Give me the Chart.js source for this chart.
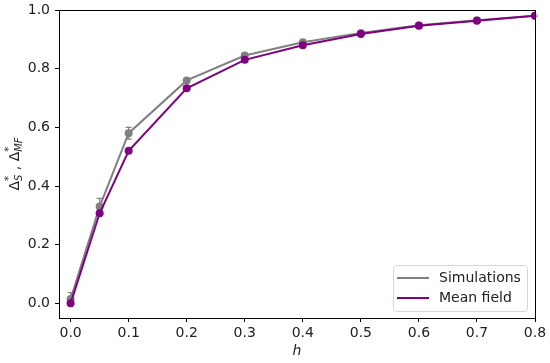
<!DOCTYPE html>
<html lang="en">
<head>
  <meta charset="UTF-8" />
  <title>Delta vs h</title>
  <script src="https://cdn.jsdelivr.net/npm/chart.js@4.4.0/dist/chart.umd.min.js"></script>
  <style>
    html, body { margin: 0; padding: 0; background: white; }
    #wrap { width: 550px; height: 363px; }
  </style>
</head>
<body>
  <div id="wrap"><canvas id="chart"></canvas></div>

  <script>
    const hValues = [0.0, 0.05, 0.1, 0.2, 0.3, 0.4, 0.5, 0.6, 0.7, 0.8];
    const simValues = [0.015, 0.330, 0.580, 0.760, 0.845, 0.890, 0.922, 0.948, 0.965, 0.980];
    const simErrors = [0.022, 0.028, 0.020, 0.008, 0.007, 0.006, 0.005, 0.004, 0.004, 0.003];
    const mfValues = [0.000, 0.307, 0.520, 0.733, 0.830, 0.880, 0.918, 0.946, 0.963, 0.980];
    const xTicks = [0.0, 0.1, 0.2, 0.3, 0.4, 0.5, 0.6, 0.7, 0.8];
    const yTicks = [0.0, 0.2, 0.4, 0.6, 0.8, 1.0];

    const GREY = '#808080';
    const PURPLE = '#800080';
    const FONT = 'DejaVu Sans';

    const toPoints = (ys) => hValues.map((x, i) => ({ x: x, y: ys[i] }));

    // error bars, frame, legend and axis titles
    const extras = {
      id: 'extras',
      beforeDatasetsDraw(chart) {
        const { ctx, scales: { x, y } } = chart;
        ctx.save();
        ctx.strokeStyle = GREY;
        ctx.lineWidth = 1.2;
        hValues.forEach((h, i) => {
          const px = x.getPixelForValue(h);
          const top = y.getPixelForValue(simValues[i] + simErrors[i]);
          const bot = y.getPixelForValue(simValues[i] - simErrors[i]);
          ctx.beginPath();
          ctx.moveTo(px, top); ctx.lineTo(px, bot);
          ctx.moveTo(px - 3, top); ctx.lineTo(px + 3, top);
          ctx.moveTo(px - 3, bot); ctx.lineTo(px + 3, bot);
          ctx.stroke();
        });
        ctx.restore();
      },
      afterDraw(chart) {
        const { ctx, chartArea: a } = chart;
        ctx.save();
        // frame
        ctx.strokeStyle = '#000';
        ctx.lineWidth = 1;
        ctx.strokeRect(a.left + 0.5, a.top + 0.5, a.right - a.left, a.bottom - a.top);

        // legend
        const lx = a.right - 142, ly = a.bottom - 53, lw = 134, lh = 46;
        ctx.fillStyle = 'rgba(255,255,255,0.8)';
        ctx.strokeStyle = '#d6d6d6';
        ctx.beginPath();
        ctx.roundRect(lx + 0.5, ly + 0.5, lw, lh, 3);
        ctx.fill(); ctx.stroke();
        ctx.font = '14px "' + FONT + '"';
        ctx.textBaseline = 'middle';
        chart.data.datasets.forEach((ds, i) => {
          const yy = ly + 13 + i * 20;
          ctx.strokeStyle = ds.borderColor;
          ctx.lineWidth = 2;
          ctx.beginPath();
          ctx.moveTo(lx + 4, yy); ctx.lineTo(lx + 36, yy);
          ctx.stroke();
          ctx.fillStyle = '#222';
          ctx.fillText(ds.label, lx + 46, yy);
        });

        // x title
        ctx.fillStyle = '#222';
        ctx.font = 'italic 14px "' + FONT + '"';
        ctx.textAlign = 'center';
        ctx.textBaseline = 'alphabetic';
        ctx.fillText('h', (a.left + a.right) / 2, 355);

        // y title: Δ*_S , Δ*_MF
        const parts = [
          { t: 'Δ', f: '14px', dy: 0 },
          { t: '*', f: '10px', dy: -7 },
          { t: 'S', f: 'italic 10px', dy: 3, back: true },
          { t: ' , ', f: '14px', dy: 0 },
          { t: 'Δ', f: '14px', dy: 0 },
          { t: '*', f: '10px', dy: -7 },
          { t: 'MF', f: 'italic 10px', dy: 3, back: true }
        ];
        const widths = parts.map((p) => {
          ctx.font = p.f + ' "' + FONT + '"';
          return ctx.measureText(p.t).width;
        });
        // subscript sits under the superscript before it
        const pos = [];
        let cur = 0, prevStart = 0;
        parts.forEach((p, i) => {
          if (p.back) {
            pos.push(prevStart);
            cur = Math.max(cur, prevStart + widths[i]);
          } else {
            pos.push(cur);
            prevStart = cur;
            cur += widths[i];
          }
        });
        const total = cur;
        ctx.translate(19, (a.top + a.bottom) / 2);
        ctx.rotate(-Math.PI / 2);
        ctx.textAlign = 'left';
        parts.forEach((p, i) => {
          ctx.font = p.f + ' "' + FONT + '"';
          ctx.fillText(p.t, pos[i] - total / 2, p.dy);
        });
        ctx.restore();
      }
    };

    const tickFont = { family: FONT, size: 14 };

    new Chart(document.getElementById('chart'), {
      type: 'line',
      data: {
        datasets: [
          {
            label: 'Simulations',
            data: toPoints(simValues),
            borderColor: GREY,
            backgroundColor: GREY,
            borderWidth: 2,
            pointRadius: 4,
            pointBorderWidth: 0,
            pointHoverRadius: 4,
            tension: 0,
            order: 2
          },
          {
            label: 'Mean field',
            data: toPoints(mfValues),
            borderColor: PURPLE,
            backgroundColor: PURPLE,
            borderWidth: 2,
            pointRadius: 4,
            pointBorderWidth: 0,
            pointHoverRadius: 4,
            tension: 0,
            order: 1
          }
        ]
      },
      options: {
        responsive: true,
        maintainAspectRatio: false,
        animation: false,
        layout: { padding: { top: 10, right: 15, left: 0, bottom: 0 } },
        plugins: {
          legend: { display: false },
          tooltip: { enabled: false }
        },
        scales: {
          x: {
            type: 'linear',
            min: -0.02,
            max: 0.8,
            afterBuildTicks: (s) => { s.ticks = xTicks.map((v) => ({ value: v })); },
            afterFit: (s) => { s.height = 45; },
            grid: { drawOnChartArea: false, drawTicks: true, tickLength: 4, color: '#000' },
            border: { color: '#000' },
            ticks: {
              font: tickFont,
              color: '#222',
              padding: 3,
              maxRotation: 0,
              callback: (v) => v.toFixed(1)
            }
          },
          y: {
            min: -0.05,
            max: 1.0,
            afterBuildTicks: (s) => { s.ticks = yTicks.map((v) => ({ value: v })); },
            afterFit: (s) => { s.width = 59; s.paddingTop = 0; s.paddingBottom = 0; },
            grid: { drawOnChartArea: false, drawTicks: true, tickLength: 4, color: '#000' },
            border: { color: '#000' },
            ticks: {
              font: tickFont,
              color: '#222',
              padding: 5,
              callback: (v) => v.toFixed(1)
            }
          }
        }
      },
      plugins: [extras]
    });
  </script>
</body>
</html>
